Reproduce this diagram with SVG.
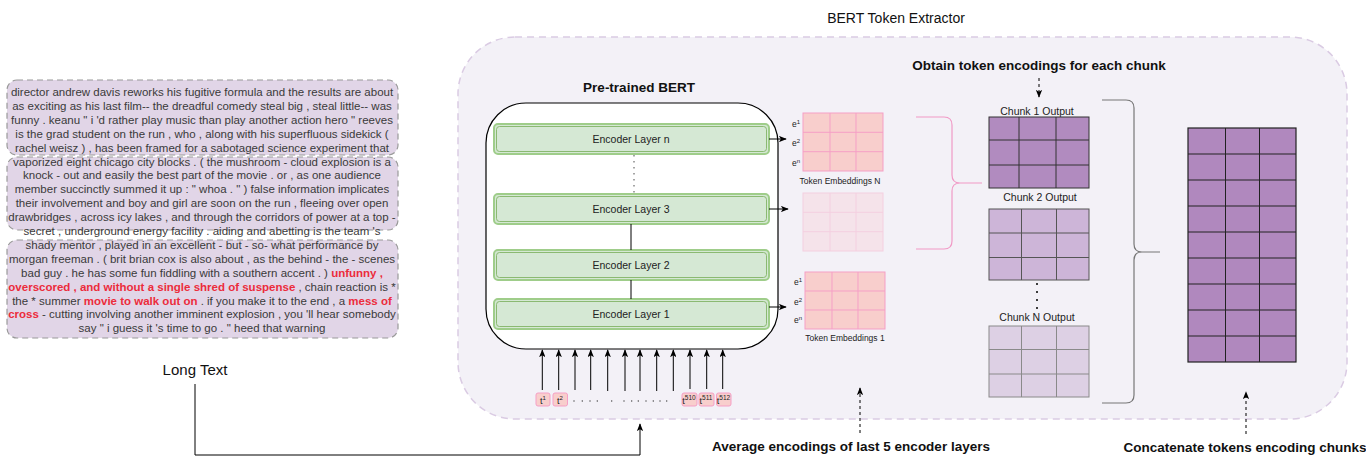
<svg xmlns="http://www.w3.org/2000/svg" width="1366" height="456" viewBox="0 0 1366 456">
<style>
text { font-family: "Liberation Sans", Arial, sans-serif; }
.body { font-size: 11.5px; fill: #3a3a3a; text-anchor: middle; }
.hl { fill: #ec2c3c; font-weight: bold; }
.lbl { font-size: 13.5px; font-weight: bold; fill: #111; text-anchor: middle; }
.chunkbox { fill: #e1d5e7; stroke: #9a9a9a; stroke-width: 1.2; stroke-dasharray: 6 4; }
.encO { fill: #d5e8d4; stroke: #9fcd8a; stroke-width: 2; }
.encI { fill: none; stroke: #82b366; stroke-width: 0.9; }
.enct { font-size: 10.5px; fill: #222; text-anchor: middle; }
.emb { fill: #f8cecc; stroke: #f59fc6; stroke-width: 1; }
.embf { fill: #f5e3ea; stroke: #f4cfe0; stroke-width: 1; }
.small { font-size: 8.5px; fill: #222; }
.elab { font-size: 8.5px; fill: #222; text-anchor: end; }
.ctl { font-size: 10.5px; fill: #222; text-anchor: middle; }
.tok { fill: #f8cecc; stroke: #f59fc6; stroke-width: 1; }
.tokt { font-size: 9px; fill: #222; text-anchor: middle; }
.conn { fill: none; stroke: #000; stroke-width: 1; }
.dash { fill: none; stroke: #000; stroke-width: 1; stroke-dasharray: 3 3; }
</style>
<defs>
<marker id="arr" viewBox="0 0 10 8" refX="9" refY="4" markerWidth="8" markerHeight="6.4" markerUnits="userSpaceOnUse" orient="auto">
<path d="M0,0 L10,4 L0,8 L2.5,4 z" fill="#000"/>
</marker>
</defs>

<!-- Big container -->
<g id="bert-token-extractor">
<rect x="458" y="37" width="889" height="382" rx="57" fill="#f3f1f7" stroke="#dacbe3" stroke-width="1.5" stroke-dasharray="7 5"/>
<text x="896" y="23" style="font-size:14px;fill:#111;text-anchor:middle">BERT Token Extractor</text>
</g>

<!-- Long text -->
<g id="long-text">
<rect class="chunkbox" x="7" y="80" width="391" height="75" rx="10"/>
<rect class="chunkbox" x="7" y="157" width="391" height="73" rx="10"/>
<rect class="chunkbox" x="7" y="240" width="391" height="98" rx="10"/>
<text class="body" x="202" y="96">director andrew davis reworks his fugitive formula and the results are about</text>
<text class="body" x="202" y="109.9">as exciting as his last film-- the dreadful comedy steal big , steal little-- was</text>
<text class="body" x="202" y="123.8">funny . keanu " i 'd rather play music than play another action hero " reeves</text>
<text class="body" x="202" y="137.7">is the grad student on the run , who , along with his superfluous sidekick (</text>
<text class="body" x="202" y="151.6">rachel weisz ) , has been framed for a sabotaged science experiment that</text>
<text class="body" x="202" y="165.5">vaporized eight chicago city blocks . ( the mushroom - cloud explosion is a</text>
<text class="body" x="202" y="179.4">knock - out and easily the best part of the movie . or , as one audience</text>
<text class="body" x="202" y="193.3">member succinctly summed it up : " whoa . " ) false information implicates</text>
<text class="body" x="202" y="207.2">their involvement and boy and girl are soon on the run , fleeing over open</text>
<text class="body" x="202" y="221.1">drawbridges , across icy lakes , and through the corridors of power at a top -</text>
<text class="body" x="202" y="235">secret , underground energy facility . aiding and abetting is the team 's</text>
<text class="body" x="202" y="248.9">shady mentor , played in an excellent - but - so- what performance by</text>
<text class="body" x="202" y="262.8">morgan freeman . ( brit brian cox is also about , as the behind - the - scenes</text>
<text class="body" x="202" y="276.7">bad guy . he has some fun fiddling with a southern accent . ) <tspan class="hl">unfunny ,</tspan></text>
<text class="body" x="202" y="290.6"><tspan class="hl">overscored , and without a single shred of suspense</tspan> , chain reaction is *</text>
<text class="body" x="202" y="304.5">the * summer <tspan class="hl">movie to walk out on</tspan> . if you make it to the end , a <tspan class="hl">mess of</tspan></text>
<text class="body" x="202" y="318.4"><tspan class="hl">cross</tspan> - cutting involving another imminent explosion , you 'll hear somebody</text>
<text class="body" x="202" y="332.3">say " i guess it 's time to go . " heed that warning</text>
<text x="195" y="375" style="font-size:15px;fill:#111;text-anchor:middle">Long Text</text>
</g>

<!-- Pre-trained BERT -->
<g id="pretrained-bert">
<text class="lbl" x="639" y="92">Pre-trained BERT</text>
<rect x="486" y="103" width="292" height="246" rx="40" fill="#fff" stroke="#000" stroke-width="1.2"/>
</g>

<g id="encoder-layer-n">
<rect class="encO" x="494" y="124" width="275" height="30" rx="4"/>
<rect class="encI" x="496.5" y="126.5" width="270" height="25" rx="3"/>
<text class="enct" x="631" y="143">Encoder Layer n</text>
</g>
<g id="encoder-layer-3">
<rect class="encO" x="494" y="194" width="275" height="30" rx="4"/>
<rect class="encI" x="496.5" y="196.5" width="270" height="25" rx="3"/>
<text class="enct" x="631" y="213">Encoder Layer 3</text>
</g>
<g id="encoder-layer-2">
<rect class="encO" x="494" y="250" width="275" height="30" rx="4"/>
<rect class="encI" x="496.5" y="252.5" width="270" height="25" rx="3"/>
<text class="enct" x="631" y="269">Encoder Layer 2</text>
</g>
<g id="encoder-layer-1">
<rect class="encO" x="494" y="299" width="275" height="30" rx="4"/>
<rect class="encI" x="496.5" y="301.5" width="270" height="25" rx="3"/>
<text class="enct" x="631" y="318">Encoder Layer 1</text>
</g>

<!-- Tokens -->
<g id="tokens">
<rect class="tok" x="536" y="393" width="14" height="13" rx="2"/>
<text class="tokt" x="543" y="403.5">t<tspan dy="-3.5" font-size="6">1</tspan></text>
<rect class="tok" x="553" y="393" width="14.5" height="13" rx="2"/>
<text class="tokt" x="560" y="403.5">t<tspan dy="-3.5" font-size="6">2</tspan></text>
<rect class="tok" x="682" y="393" width="15" height="13" rx="2"/>
<text class="tokt" x="689" y="404">t<tspan dy="-4" font-size="6.5">510</tspan></text>
<rect class="tok" x="699" y="393" width="15" height="13" rx="2"/>
<text class="tokt" x="706" y="404">t<tspan dy="-4" font-size="6.5">511</tspan></text>
<rect class="tok" x="716.5" y="393" width="14.5" height="13" rx="2"/>
<text class="tokt" x="723.5" y="404">t<tspan dy="-4" font-size="6.5">512</tspan></text>
<g fill="#444">
<circle cx="574" cy="401" r="0.7"/><circle cx="582.3" cy="401" r="0.7"/><circle cx="590" cy="401" r="0.7"/><circle cx="597.3" cy="401" r="0.7"/><circle cx="611.7" cy="401" r="0.7"/>
<circle cx="624" cy="401" r="0.7"/><circle cx="631.7" cy="401" r="0.7"/><circle cx="638.3" cy="401" r="0.7"/><circle cx="646" cy="401" r="0.7"/><circle cx="653.3" cy="401" r="0.7"/><circle cx="660" cy="401" r="0.7"/><circle cx="666.7" cy="401" r="0.7"/>
</g>
</g>

<!-- Token embeddings -->
<g id="token-embeddings-n">
<rect class="emb" x="803" y="113" width="80" height="58"/>
<path d="M830,113 V171 M856,113 V171 M803,132.3 H883 M803,151.7 H883" stroke="#f59fc6" stroke-width="1"/>
<text class="elab" x="800" y="127">e<tspan dy="-3" font-size="6">1</tspan></text>
<text class="elab" x="800" y="146">e<tspan dy="-3" font-size="6">2</tspan></text>
<text class="elab" x="800" y="166">e<tspan dy="-3" font-size="6">n</tspan></text>
<text class="small" x="840" y="184" text-anchor="middle">Token Embeddings N</text>
</g>
<g id="token-embeddings-mid">
<rect class="embf" x="803" y="193" width="80" height="58"/>
<path d="M830,193 V251 M856,193 V251 M803,212.3 H883 M803,231.7 H883" stroke="#f4cfe0" stroke-width="1"/>
</g>
<g id="token-embeddings-1">
<rect class="emb" x="805" y="272" width="80" height="57"/>
<path d="M832,272 V329 M858,272 V329 M805,291 H885 M805,310 H885" stroke="#f59fc6" stroke-width="1"/>
<text class="elab" x="802" y="285">e<tspan dy="-3" font-size="6">1</tspan></text>
<text class="elab" x="802" y="305">e<tspan dy="-3" font-size="6">2</tspan></text>
<text class="elab" x="802" y="323">e<tspan dy="-3" font-size="6">n</tspan></text>
<text class="small" x="845" y="341" text-anchor="middle">Token Embeddings 1</text>
</g>

<!-- Chunk outputs -->
<g id="chunk-1-output">
<text class="ctl" x="1037" y="114.5">Chunk 1 Output</text>
<rect x="989" y="117" width="100" height="71" fill="#b18bbf" stroke="#333" stroke-width="1"/>
<path d="M1019,117 V188 M1056,117 V188 M989,140 H1089 M989,165 H1089" stroke="#333" stroke-width="1"/>
</g>
<g id="chunk-2-output">
<text class="ctl" x="1040" y="200.5">Chunk 2 Output</text>
<rect x="989" y="209" width="100" height="71" fill="#cdb5d8" stroke="#555" stroke-width="1"/>
<path d="M1021.5,209 V280 M1056.5,209 V280 M989,233 H1089 M989,257.5 H1089" stroke="#555" stroke-width="1"/>
</g>
<g id="chunk-n-output">
<text class="ctl" x="1037" y="321">Chunk N Output</text>
<rect x="989" y="326" width="100" height="71" fill="#ddd0e4" stroke="#8a8a8a" stroke-width="1"/>
<path d="M1021.5,326 V397 M1056.5,326 V397 M989,349.5 H1089 M989,374 H1089" stroke="#8a8a8a" stroke-width="1"/>
</g>

<!-- Concatenated output -->
<g id="concatenated-output">
<rect x="1188" y="128" width="108" height="234" fill="#b088be" stroke="#222" stroke-width="1.2"/>
<path d="M1225.5,128 V362 M1259.5,128 V362 M1188,154 H1296 M1188,180 H1296 M1188,206 H1296 M1188,232 H1296 M1188,258 H1296 M1188,284 H1296 M1188,310 H1296 M1188,336 H1296" stroke="#222" stroke-width="1"/>
</g>

<!-- Annotations -->
<g id="annotation-obtain">
<text class="lbl" x="1039" y="70">Obtain token encodings for each chunk</text>
</g>
<g id="annotation-average">
<text class="lbl" x="851" y="451">Average encodings of last 5 encoder layers</text>
</g>
<g id="annotation-concatenate">
<text class="lbl" x="1245" y="452">Concatenate tokens encoding chunks</text>
</g>

<!-- Connectors -->
<g id="connectors">
<path class="conn" d="M195,384 V455 H640 V424" marker-end="url(#arr)"/>
<path class="conn" d="M769,139 H786" marker-end="url(#arr)"/>
<path class="conn" d="M769,209 H788" marker-end="url(#arr)"/>
<path class="conn" d="M769,307 H786" marker-end="url(#arr)"/>
<path d="M634,155 V193" fill="none" stroke="#888" stroke-width="1.5" stroke-dasharray="1.5 4.5"/>
<path class="conn" d="M631,224 V250 M631,280 V299"/>
<g class="conn">
<path d="M542.3,390 V350" marker-end="url(#arr)"/>
<path d="M558.7,390 V350" marker-end="url(#arr)"/>
<path d="M575,390 V350" marker-end="url(#arr)"/>
<path d="M590.7,390 V350" marker-end="url(#arr)"/>
<path d="M607.7,391 V350" marker-end="url(#arr)"/>
<path d="M625,391 V350" marker-end="url(#arr)"/>
<path d="M640,391 V350" marker-end="url(#arr)"/>
<path d="M656.7,391 V350" marker-end="url(#arr)"/>
<path d="M673.3,391 V350" marker-end="url(#arr)"/>
<path d="M690,389 V350" marker-end="url(#arr)"/>
<path d="M706.7,389 V350" marker-end="url(#arr)"/>
<path d="M722.7,389 V350" marker-end="url(#arr)"/>
</g>
<path d="M916,117 H944 Q952,117 952,125 V175 Q952,183 960,183 H982 M960,183 Q952,183 952,191 V241 Q952,249 944,249 H916" fill="none" stroke="#f19ac6" stroke-width="1.2"/>
<path d="M1102,100 H1126 Q1134,100 1134,108 V244 Q1134,252 1142,252 H1160 M1142,252 Q1134,252 1134,260 V395 Q1134,403 1126,403 H1102" fill="none" stroke="#777" stroke-width="1.2"/>
<path d="M1037,283 V309" fill="none" stroke="#000" stroke-width="1.5" stroke-dasharray="2 6"/>
<path class="dash" d="M1039,78 V97" marker-end="url(#arr)"/>
<path class="dash" d="M860,433 V388" marker-end="url(#arr)"/>
<path class="dash" d="M1246,434 V392" marker-end="url(#arr)"/>
</g>
</svg>
